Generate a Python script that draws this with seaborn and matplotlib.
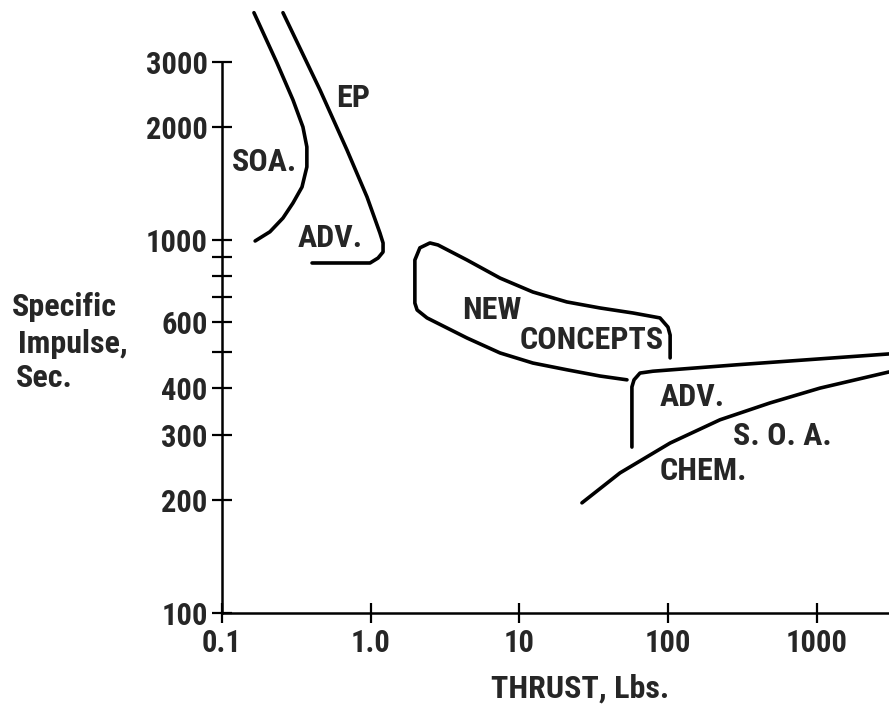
import matplotlib
matplotlib.use('Agg')
import matplotlib.pyplot as plt
import matplotlib.font_manager as fm
import seaborn as sns

# thrust (lbs) / specific impulse (sec)
ep_soa_thrust = [0.164, 0.234, 0.300, 0.350, 0.372, 0.372, 0.345, 0.300, 0.257, 0.210, 0.167]
ep_soa_isp = [4060, 2980, 2370, 2005, 1773, 1567, 1384, 1254, 1143, 1050, 992]

ep_adv_thrust = [0.257, 0.456, 0.692, 0.944, 1.153, 1.21, 1.21, 1.12, 0.989, 0.847, 0.403]
ep_adv_isp = [4060, 2520, 1740, 1302, 1042, 980, 927, 893, 866, 866, 866]

new_thrust = [103, 103, 99.6, 88, 58, 34.8, 20.8, 12.3, 7.4, 4.44, 2.83, 2.50, 2.14,
              1.98, 1.98, 2.05, 2.39, 4.44, 7.4, 12.3, 20.8, 34.8, 52.8]
new_isp = [482, 555, 583, 617, 636, 656, 681, 724, 789, 882, 968, 980, 951,
           882, 676, 648, 617, 545, 497, 467, 448, 431, 421]

chem_adv_thrust = [57, 57, 58.9, 64.6, 79, 290, 3050]
chem_adv_isp = [278, 403, 421, 439, 444, 462, 494]

chem_soa_thrust = [26.3, 47.4, 103, 223, 483, 1047, 3050]
chem_soa_isp = [197, 237, 285, 329, 365, 400, 442]

y_ticks = [100, 200, 300, 400, 500, 600, 700, 800, 900, 1000, 2000, 3000]
y_labels = ['100', '200', '300', '400', '', '600', '', '', '', '1000', '2000', '3000']
x_ticks = [0.1, 1, 10, 100, 1000]
x_labels = ['0.1', '1.0', '10', '100', '1000']

sns.set_style('ticks')
available = {f.name for f in fm.fontManager.ttflist}
family = 'DejaVu Sans'
for cand in ['Liberation Sans Narrow', 'DejaVu Sans Condensed', 'Roboto Condensed', 'DejaVu Sans']:
    if cand in available:
        family = cand
        break
plt.rcParams['font.family'] = [family, 'DejaVu Sans']
plt.rcParams['font.weight'] = 'bold'

fig = plt.figure(figsize=(8.89, 7.11), dpi=100)
ax = fig.add_axes([222 / 889, 98.3 / 711, 667 / 889, 605.5 / 711])
ax.set_xscale('log')
ax.set_yscale('log')

curves = [(ep_soa_thrust, ep_soa_isp), (ep_adv_thrust, ep_adv_isp), (new_thrust, new_isp),
          (chem_adv_thrust, chem_adv_isp), (chem_soa_thrust, chem_soa_isp)]
for tx, isp in curves:
    sns.lineplot(x=tx, y=isp, sort=False, estimator=None, color='black', lw=2.6, ax=ax)

ax.set_xlim(0.1, 3050)
ax.set_ylim(100, 4200)
ax.minorticks_off()
ax.set_xticks(x_ticks)
ax.set_xticklabels(x_labels)
ax.set_yticks(y_ticks)
ax.set_yticklabels(y_labels)
ax.tick_params(direction='inout', length=14.4, width=1.6, labelsize=22, color='black')
ax.tick_params(axis='y', pad=3)
ax.tick_params(axis='x', pad=4)

sns.despine(ax=ax)
ax.spines['left'].set_bounds(100, 3000)
for s in ['left', 'bottom']:
    ax.spines[s].set_linewidth(1.8)
    ax.spines[s].set_color('black')

fs = 23
ax.text(0.76, 2400, 'EP', fontsize=fs, ha='center', va='center')
ax.text(0.1945, 1615, 'SOA.', fontsize=fs, ha='center', va='center')
ax.text(0.532, 1010, 'ADV.', fontsize=fs, ha='center', va='center')
ax.text(6.53, 648, 'NEW', fontsize=fs, ha='center', va='center')
ax.text(30.7, 538, 'CONCEPTS', fontsize=fs, ha='center', va='center')
ax.text(144, 379, 'ADV.', fontsize=fs, ha='center', va='center')
ax.text(582, 298, 'S. O. A.', fontsize=fs, ha='center', va='center')
ax.text(171, 240, 'CHEM.', fontsize=fs, ha='center', va='center')

fig.text(12 / 889, 1 - 307 / 711, 'Specific', fontsize=fs, ha='left', va='center')
fig.text(18 / 889, 1 - 344 / 711, 'Impulse,', fontsize=fs, ha='left', va='center')
fig.text(16 / 889, 1 - 378 / 711, 'Sec.', fontsize=fs, ha='left', va='center')
fig.text(580 / 889, 1 - 689 / 711, 'THRUST, Lbs.', fontsize=fs, ha='center', va='center')

fig.savefig('out.png', dpi=100)
